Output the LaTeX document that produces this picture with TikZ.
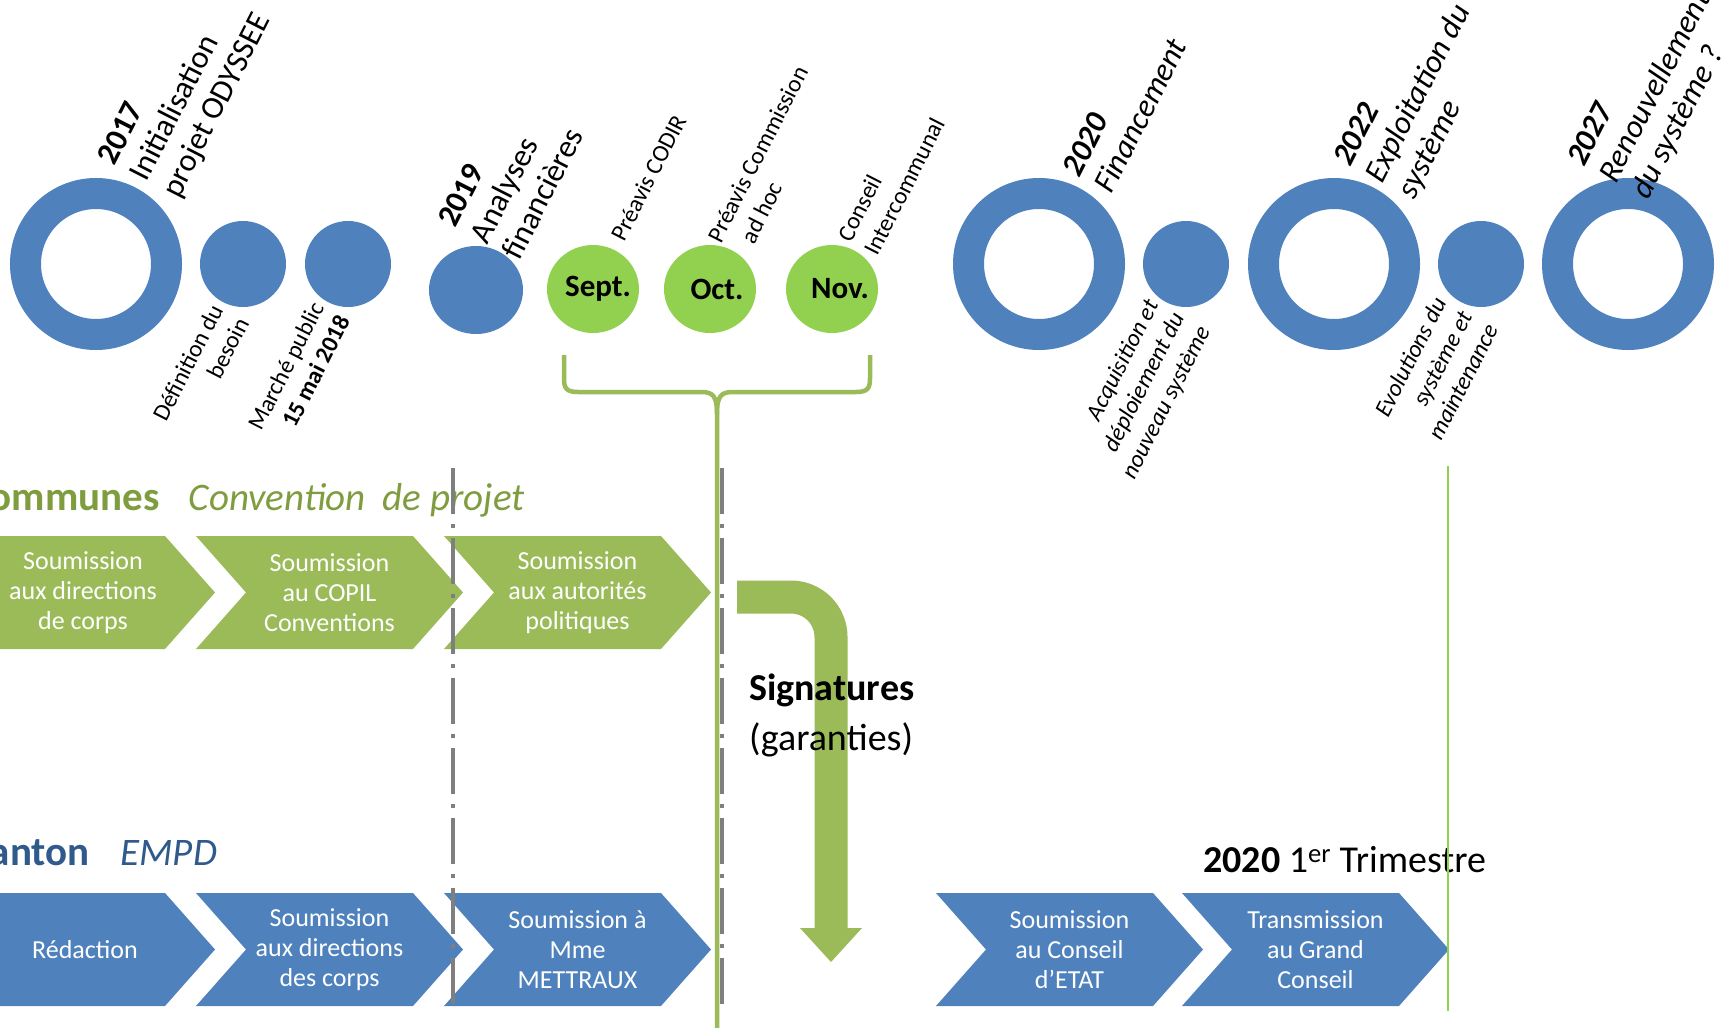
\documentclass[tikz,border=0pt]{standalone}
\usepackage{fontspec}
\setmainfont{Carlito}
\usepackage{tikz}
\usetikzlibrary{shapes.geometric}

\definecolor{ringblue}{HTML}{4F81BD}
\definecolor{monthgreen}{HTML}{92D050}
\definecolor{olive}{HTML}{9BBB59}
\definecolor{communesgreen}{HTML}{7F9D3F}
\definecolor{cantonblue}{HTML}{305A8C}
\definecolor{dashgrey}{HTML}{7F7F7F}

% chevron: fill style, left x, top y
\newcommand{\chevron}[3]{\fill[#1] (#2,#3) -- ++(217,0) -- ++(50,56.5) -- ++(-50,56.5) -- ++(-217,0) -- ++(50,-56.5) -- cycle;}

\begin{document}
\begin{tikzpicture}[x=1pt, y=-1pt,
    ring/.style={circle, draw=ringblue, line width=31pt, minimum size=141pt, inner sep=0pt},
    smalldot/.style={circle, fill=ringblue, minimum size=86pt, inner sep=0pt},
    month/.style={ellipse, fill=monthgreen, minimum width=92pt, minimum height=88pt, inner sep=0pt},
    monthtext/.style={inner sep=0pt, font=\fontsize{31}{36}\selectfont\bfseries},
    toplabel/.style={rotate=63, anchor=south west, align=left, inner sep=0pt, font=\fontsize{32}{36}\selectfont},
    smalllabel/.style={toplabel, font=\fontsize{24}{30}\selectfont},
    lowlabel/.style={rotate=63, anchor=north east, align=right, inner sep=0pt, font=\fontsize{24}{29}\selectfont},
    steptext/.style={text=white, align=center, inner sep=0pt, font=\fontsize{26}{30}\selectfont},
    rowtitle/.style={anchor=base west, inner sep=0pt, font=\fontsize{38}{46}\selectfont},
    bracket/.style={draw=olive, line width=4.5pt},
    divider/.style={draw=dashgrey, line width=4pt, dash pattern=on 46pt off 10pt on 4pt off 10pt}
]
    \useasboundingbox (0,0) rectangle (1727,1028);
    \clip (0,0) rectangle (1727,1028);
    \fill[white] (0,0) rectangle (1727,1028);

    % timeline
    \node[ring] (y2017) at (96,264) {};
    \node[smalldot] (besoin) at (243,264) {};
    \node[smalldot] (marche) at (348,264) {};
    \node[ellipse, fill=ringblue, minimum width=94pt, minimum height=88pt, inner sep=0pt] (y2019) at (476,290) {};
    \node[month] (sept) at (593,289) {};
    \node[month] (oct) at (710,289) {};
    \node[month] (nov) at (832,289) {};
    \node[monthtext] at ([xshift=5pt]sept.center) {Sept.};
    \node[monthtext] at ([xshift=7pt]oct.center) {Oct.};
    \node[monthtext] at ([xshift=8pt]nov.center) {Nov.};
    \node[ring] (y2020) at (1039,264) {};
    \node[smalldot] (acq) at (1186,264) {};
    \node[ring] (y2022) at (1334,264) {};
    \node[smalldot] (evo) at (1481,264) {};
    \node[ring] (y2027) at (1628,264) {};

    % labels above
    \node[toplabel] (t2017) at (184,202) {\textbf{2017}\\Initialisation\\projet ODYSSEE};
    \node[toplabel] (t2019) at (520,262) {\textbf{2019}\\Analyses\\financières};
    \node[smalllabel] (tcodir) at (625,243) {Préavis CODIR};
    \node[smalllabel] (tcommission) at (748,258) {Préavis Commission\\\hspace*{14pt}ad hoc};
    \node[smalllabel] (tconseil) at (878,257) {Conseil\\Intercommunal};
    \node[toplabel, font=\fontsize{32}{36}\selectfont\itshape] (t2020) at (1112,195) {\textbf{2020}\\Financement};
    \node[toplabel, font=\fontsize{32}{36}\selectfont\itshape] (t2022) at (1419,203) {\textbf{2022}\\Exploitation du\\système};
    \node[toplabel, font=\fontsize{32}{36}\selectfont\itshape] (t2027) at (1653,203) {\textbf{2027}\\Renouvellement\\du système ?};

    % labels below
    \node[lowlabel] (lbesoin) at (209,302) {Définition du\\besoin};
    \node[lowlabel] (lmarche) at (310,300) {Marché public\\\textbf{15 mai 2018}};
    \node[lowlabel, font=\fontsize{24}{29}\selectfont\itshape] (lacq) at (1144,297) {Acquisition et\\déploiement du\\nouveau système};
    \node[lowlabel, font=\fontsize{24}{29}\selectfont\itshape] (levo) at (1432,295) {Evolutions du\\système et\\maintenance};

    % bracket under the months
    \coordinate (brl) at (564,355);
    \coordinate (brr) at (870,355);
    \coordinate (brtip) at (717,414);
    \coordinate (brfoot) at (717,1028);
    \draw[bracket] (brl) -- (564,378) .. controls (564,388) and (566,392) .. (578,392) -- (701,392) .. controls (713,392) and (717,396) .. (brtip);
    \draw[bracket] (brr) -- (870,378) .. controls (870,388) and (868,392) .. (856,392) -- (733,392) .. controls (721,392) and (717,396) .. (brtip) -- (brfoot);

    % Communes row
    \node[rowtitle, text=communesgreen] (communes) at (-32,510) {\textbf{\fontsize{41}{46}\selectfont Communes}\hspace{29pt}\textit{\fontsize{39}{46}\selectfont Convention\hspace{17pt}de projet}};
    \chevron{olive}{-52}{536}
    \chevron{olive}{196}{536}
    \chevron{olive}{444}{536}
    \node[steptext] (c1) at (83,592.5) {Soumission\\aux directions\\de corps};
    \node[steptext] (c2) at (329.5,592.5) {Soumission\\au COPIL\\Conventions};
    \node[steptext] (c3) at (577.5,592.5) {Soumission\\aux autorités\\politiques};

    % Canton row
    \node[rowtitle, text=cantonblue] (canton) at (-32,865) {\textbf{\fontsize{41}{46}\selectfont Canton}\hspace{31pt}\textit{\fontsize{39}{46}\selectfont EMPD}};
    \node[rowtitle] (trimestre) at (1203,872) {\textbf{2020} 1\textsuperscript{er} Trimestre};
    \chevron{ringblue}{-52}{893}
    \chevron{ringblue}{196}{893}
    \chevron{ringblue}{444}{893}
    \chevron{ringblue}{936}{893}
    \chevron{ringblue}{1182}{893}
    \node[steptext] (e1) at (85,949.5) {Rédaction};
    \node[steptext] (e2) at (329.5,949.5) {Soumission\\aux directions\\des corps};
    \node[steptext] (e3) at (577.5,949.5) {Soumission à\\Mme\\METTRAUX};
    \node[steptext] (e4) at (1069.5,949.5) {Soumission\\au Conseil\\d’ETAT};
    \node[steptext] (e5) at (1315.5,949.5) {Transmission\\au Grand\\Conseil};

    % separators
    \coordinate (d1top) at (453,468);
    \coordinate (d1bot) at (453,1008);
    \coordinate (d2top) at (722,468);
    \coordinate (d2bot) at (722,1010);
    \coordinate (g1top) at (1448,466);
    \coordinate (g1bot) at (1448,1011);
    \draw[divider] (d1top) -- (d1bot);
    \draw[divider] (d2top) -- (d2bot);
    \draw[monthgreen, line width=1.5pt] (g1top) -- (g1bot);

    % signatures arrow
    \coordinate (sigstart) at (737,597);
    \coordinate (sigbend) at (831,597);
    \coordinate (sigend) at (831,928);
    \draw[olive, line width=33pt, rounded corners=40pt] (sigstart) -- (sigbend) -- (sigend);
    \fill[olive] (sigend) ++(-31,0) -- ++(62,0) -- ++(-31,34) -- cycle;
    \node[rowtitle] (sig) at (749,700) {\textbf{Signatures}};
    \node[rowtitle] (gar) at (749,750) {(garanties)};
\end{tikzpicture}
\end{document}
